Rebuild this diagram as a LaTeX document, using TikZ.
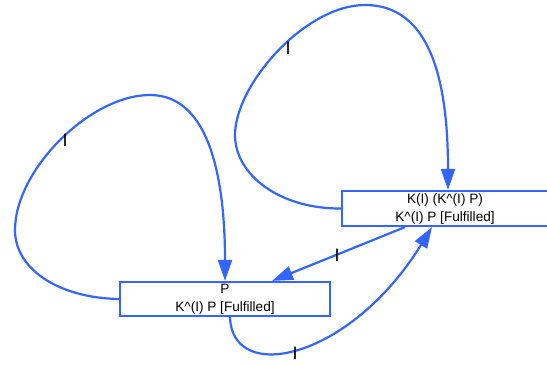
\documentclass[tikz,border=0pt]{standalone}
\usepackage{fontspec}
\setmainfont{Liberation Sans}
\usetikzlibrary{arrows.meta,calc}
\definecolor{edgeblue}{RGB}{51,102,255}
\tikzset{
  statebox/.style={draw=edgeblue, line width=2.2pt, align=center, inner sep=0pt,
    font=\fontsize{13.6}{18}\selectfont, text=black},
  conn/.style={draw=edgeblue, line width=2.2pt, -{Triangle[length=21pt,width=14pt]}},
  lbl/.style={font=\fontsize{18}{18}\selectfont, text=black, inner sep=0pt}
}
\begin{document}
\begin{tikzpicture}[x=1pt,y=-1pt]
\useasboundingbox (0,0) rectangle (547,365);
\node[statebox, minimum width=206pt, minimum height=35pt] (b1) at (445,208.5) {K(I) (K\^{}(I) P)\\K\^{}(I) P [Fulfilled]};
\node[statebox, minimum width=210pt, minimum height=34pt] (b2) at (225,299) {P\\K\^{}(I) P [Fulfilled]};
% self loop on b1
\coordinate (t1) at ([xshift=3pt]b1.north);
\draw[conn] (b1.west) .. controls (280,209) and (235,175) .. (235,135)
  .. controls (235,85) and (305,5) .. (365,5)
  .. controls (430,5) and (448,80) .. (t1);
\node[lbl] (l1) at (288,48) {I};
% self loop on b2
\draw[conn] (b2.west) .. controls (60,298) and (15,270) .. (15,230)
  .. controls (15,170) and (90,95) .. (150,95)
  .. controls (210,95) and (225,180) .. (b2.north);
\node[lbl] (l2) at (65,140) {I};
% b1 -> b2
\coordinate (s3) at ([xshift=-40pt]b1.south);
\coordinate (e3) at ([xshift=47pt]b2.north);
\draw[conn] (s3) -- (e3);
\node[lbl] (l3) at (337,255) {I};
% b2 -> b1
\coordinate (s4) at ([xshift=5pt]b2.south);
\coordinate (e4) at ([xshift=-13pt]b1.south);
\draw[conn] (s4) .. controls (232,385) and (350,360) .. (e4);
\node[lbl] (l4) at (295,353) {I};
\end{tikzpicture}
\end{document}
